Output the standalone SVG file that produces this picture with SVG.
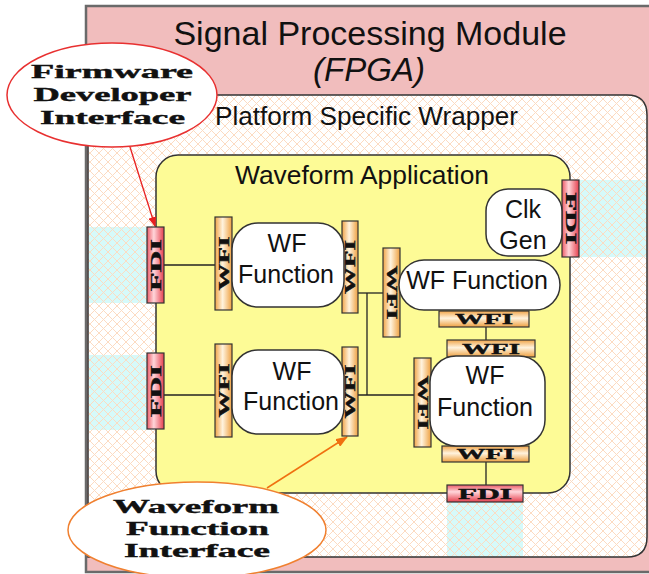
<svg xmlns="http://www.w3.org/2000/svg" width="649" height="574" viewBox="0 0 649 574">
<style>
.t{font-family:"Liberation Sans",Arial,sans-serif;fill:#111}
.lbl{font-family:"Liberation Serif","Times New Roman",serif;font-weight:bold;fill:#111;stroke:#111;stroke-width:0.4}
.blk{stroke:#333;stroke-width:1.2}
.box{fill:#fff;stroke:#333;stroke-width:1.5}
.wire{stroke:#222;stroke-width:1.3;fill:none}
</style>
<defs>
<pattern id="hatch" patternUnits="userSpaceOnUse" width="9" height="9">
<path d="M-1,-1 L10,10 M10,-1 L-1,10" stroke="#fcdbc2" stroke-width="1"/>
</pattern>
<linearGradient id="fdiV" x1="0" y1="0" x2="1" y2="0">
<stop offset="0" stop-color="#ec5a66"/><stop offset="0.4" stop-color="#ffd6da"/><stop offset="1" stop-color="#e6404e"/>
</linearGradient>
<linearGradient id="fdiH" x1="0" y1="0" x2="0" y2="1">
<stop offset="0" stop-color="#ec5a66"/><stop offset="0.4" stop-color="#ffd6da"/><stop offset="1" stop-color="#e6404e"/>
</linearGradient>
<linearGradient id="wfiV" x1="0" y1="0" x2="1" y2="0">
<stop offset="0" stop-color="#f0a448"/><stop offset="0.45" stop-color="#fff3de"/><stop offset="1" stop-color="#eea040"/>
</linearGradient>
<linearGradient id="wfiH" x1="0" y1="0" x2="0" y2="1">
<stop offset="0" stop-color="#f0a448"/><stop offset="0.45" stop-color="#fff3de"/><stop offset="1" stop-color="#eea040"/>
</linearGradient>
<marker id="arrR" markerWidth="10" markerHeight="8" refX="9" refY="4" orient="auto" markerUnits="userSpaceOnUse">
<path d="M0,0 L10,4 L0,8 z" fill="#e82020"/>
</marker>
<marker id="arrO" markerWidth="12" markerHeight="9" refX="11" refY="4.5" orient="auto" markerUnits="userSpaceOnUse">
<path d="M0,0 L12,4.5 L0,9 z" fill="#f07010"/>
</marker>
</defs>

<g id="module">
<rect x="86" y="6" width="600" height="566" fill="#f1bdbd" stroke="#6a6a6a" stroke-width="2.5"/>
<text class="t" x="370" y="45" font-size="34" text-anchor="middle">Signal Processing Module</text>
<text class="t" x="369" y="81" font-size="33" font-style="italic" text-anchor="middle">(FPGA)</text>
</g>

<g id="wrapper">
<path d="M88,95 H627 Q647,95 647,115 V537 Q647,557 627,557 H88 Z" fill="#fff"/>
<rect x="89" y="227" width="58" height="76" fill="#d6fafa"/>
<rect x="89" y="355" width="58" height="75" fill="#d6fafa"/>
<rect x="579" y="180" width="68" height="77" fill="#d6fafa"/>
<rect x="447" y="502" width="76" height="55" fill="#d6fafa"/>
<path d="M88,95 H627 Q647,95 647,115 V537 Q647,557 627,557 H88 Z" fill="url(#hatch)" stroke="#333" stroke-width="1.5"/>
<text class="t" x="215" y="125" font-size="25" textLength="303" lengthAdjust="spacingAndGlyphs">Platform Specific Wrapper</text>
</g>

<g id="application">
<rect x="156" y="155" width="414" height="338" rx="22" fill="#fdfb96" stroke="#333" stroke-width="1.5"/>
<text class="t" x="235" y="184" font-size="25" textLength="254" lengthAdjust="spacingAndGlyphs">Waveform Application</text>
</g>

<g id="connectors">
<path class="wire" d="M164,265 H215"/>
<path class="wire" d="M164,395 H215"/>
<path class="wire" d="M358,293 H383"/>
<path class="wire" d="M367,293 V395"/>
<path class="wire" d="M358,395 H414"/>
<path class="wire" d="M486,327 V340"/>
<path class="wire" d="M486,462 V485"/>
<path d="M130,147 L155,226" stroke="#e82020" stroke-width="1.3" marker-end="url(#arrR)"/>
<path d="M267,488 L347,437" stroke="#f07010" stroke-width="1.5" marker-end="url(#arrO)"/>
</g>

<g id="fdi1">
<rect class="blk" x="147" y="227" width="17" height="76" fill="url(#fdiV)"/>
<text class="lbl" x="155.5" y="270" font-size="15" text-anchor="middle" textLength="52" lengthAdjust="spacingAndGlyphs" transform="rotate(-90 155.5 265)">FDI</text>
</g>
<g id="fdi2">
<rect class="blk" x="147" y="353" width="17" height="76" fill="url(#fdiV)"/>
<text class="lbl" x="155.5" y="396" font-size="15" text-anchor="middle" textLength="52" lengthAdjust="spacingAndGlyphs" transform="rotate(-90 155.5 391)">FDI</text>
</g>
<g id="fdi3">
<rect class="blk" x="562" y="180" width="17" height="77" fill="url(#fdiV)"/>
<text class="lbl" x="570.5" y="223.5" font-size="15" text-anchor="middle" textLength="52" lengthAdjust="spacingAndGlyphs" transform="rotate(90 570.5 218.5)">FDI</text>
</g>
<g id="fdi4">
<rect class="blk" x="447" y="485" width="76" height="17" fill="url(#fdiH)"/>
<text class="lbl" x="485" y="498.5" font-size="15" text-anchor="middle" textLength="54" lengthAdjust="spacingAndGlyphs">FDI</text>
</g>

<g id="wfi1">
<rect class="blk" x="215" y="217" width="17" height="93" fill="url(#wfiV)"/>
<text class="lbl" x="223.5" y="268.5" font-size="15" text-anchor="middle" textLength="54" lengthAdjust="spacingAndGlyphs" transform="rotate(-90 223.5 263.5)">WFI</text>
</g>
<g id="wfi2">
<rect class="blk" x="342" y="221" width="16" height="92" fill="url(#wfiV)"/>
<text class="lbl" x="350" y="272" font-size="15" text-anchor="middle" textLength="54" lengthAdjust="spacingAndGlyphs" transform="rotate(-90 350 267)">WFI</text>
</g>
<g id="wfi3">
<rect class="blk" x="215" y="344" width="17" height="93" fill="url(#wfiV)"/>
<text class="lbl" x="223.5" y="395.5" font-size="15" text-anchor="middle" textLength="54" lengthAdjust="spacingAndGlyphs" transform="rotate(-90 223.5 390.5)">WFI</text>
</g>
<g id="wfi4">
<rect class="blk" x="342" y="347" width="16" height="89" fill="url(#wfiV)"/>
<text class="lbl" x="350" y="396.5" font-size="15" text-anchor="middle" textLength="54" lengthAdjust="spacingAndGlyphs" transform="rotate(-90 350 391.5)">WFI</text>
</g>
<g id="wfi5">
<rect class="blk" x="383" y="248" width="17" height="89" fill="url(#wfiV)"/>
<text class="lbl" x="391.5" y="297.5" font-size="15" text-anchor="middle" textLength="54" lengthAdjust="spacingAndGlyphs" transform="rotate(90 391.5 292.5)">WFI</text>
</g>
<g id="wfi6">
<rect class="blk" x="439" y="311" width="90" height="16" fill="url(#wfiH)"/>
<text class="lbl" x="484" y="324" font-size="15" text-anchor="middle" textLength="58" lengthAdjust="spacingAndGlyphs">WFI</text>
</g>
<g id="wfi7">
<rect class="blk" x="447" y="340" width="88" height="17" fill="url(#wfiH)"/>
<text class="lbl" x="491" y="353.5" font-size="15" text-anchor="middle" textLength="58" lengthAdjust="spacingAndGlyphs">WFI</text>
</g>
<g id="wfi8">
<rect class="blk" x="414" y="358" width="17" height="89" fill="url(#wfiV)"/>
<text class="lbl" x="422.5" y="407.5" font-size="15" text-anchor="middle" textLength="54" lengthAdjust="spacingAndGlyphs" transform="rotate(90 422.5 402.5)">WFI</text>
</g>
<g id="wfi9">
<rect class="blk" x="442" y="446" width="87" height="16" fill="url(#wfiH)"/>
<text class="lbl" x="485.5" y="459" font-size="15" text-anchor="middle" textLength="58" lengthAdjust="spacingAndGlyphs">WFI</text>
</g>

<g id="wf1">
<rect class="box" x="232" y="223" width="112" height="84" rx="26"/>
<text class="t" x="287" y="252" font-size="25" text-anchor="middle">WF</text>
<text class="t" x="286" y="283" font-size="25" text-anchor="middle">Function</text>
</g>
<g id="wf2">
<rect class="box" x="232" y="350" width="112" height="84" rx="26"/>
<text class="t" x="292" y="380" font-size="25" text-anchor="middle">WF</text>
<text class="t" x="291" y="410" font-size="25" text-anchor="middle">Function</text>
</g>
<g id="wf3">
<rect class="box" x="399" y="260" width="161" height="50" rx="25"/>
<text class="t" x="477" y="289" font-size="25" text-anchor="middle">WF Function</text>
</g>
<g id="wf4">
<rect class="box" x="430" y="356" width="115" height="90" rx="26"/>
<text class="t" x="485" y="384" font-size="25" text-anchor="middle">WF</text>
<text class="t" x="485" y="416" font-size="25" text-anchor="middle">Function</text>
</g>
<g id="clkgen">
<rect class="box" x="486" y="189" width="76" height="67" rx="22"/>
<text class="t" x="523" y="218" font-size="25" text-anchor="middle">Clk</text>
<text class="t" x="523" y="249" font-size="25" text-anchor="middle">Gen</text>
</g>

<g id="callout-fdi">
<ellipse cx="112" cy="95" rx="105" ry="52" fill="#fff" stroke="#e83030" stroke-width="1.5"/>
<text class="lbl" x="112" y="78" font-size="18" text-anchor="middle" textLength="162" lengthAdjust="spacingAndGlyphs">Firmware</text>
<text class="lbl" x="112.5" y="101" font-size="18" text-anchor="middle" textLength="158" lengthAdjust="spacingAndGlyphs">Developer</text>
<text class="lbl" x="112.5" y="124" font-size="18" text-anchor="middle" textLength="145" lengthAdjust="spacingAndGlyphs">Interface</text>
</g>
<g id="callout-wfi">
<ellipse cx="197" cy="530" rx="129" ry="48" fill="#fff" stroke="#f08030" stroke-width="1.5"/>
<text class="lbl" x="196" y="513" font-size="18" text-anchor="middle" textLength="166" lengthAdjust="spacingAndGlyphs">Waveform</text>
<text class="lbl" x="197.5" y="535" font-size="18" text-anchor="middle" textLength="143" lengthAdjust="spacingAndGlyphs">Function</text>
<text class="lbl" x="197" y="557" font-size="18" text-anchor="middle" textLength="146" lengthAdjust="spacingAndGlyphs">Interface</text>
</g>
</svg>
